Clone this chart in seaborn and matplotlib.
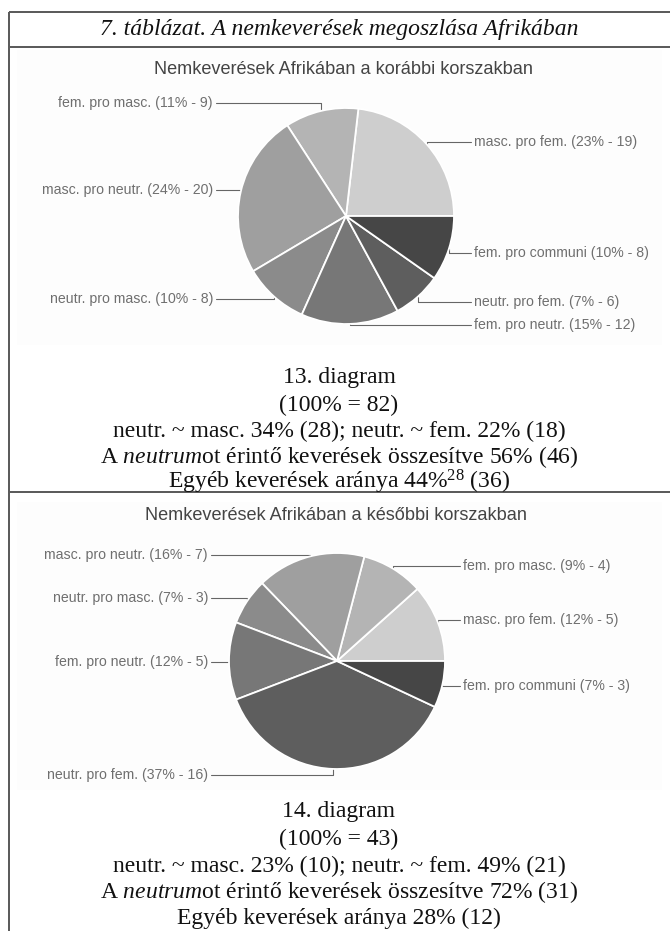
import matplotlib
matplotlib.use("Agg")
import numpy as np
import matplotlib.pyplot as plt
from matplotlib.patches import Rectangle
import seaborn as sns

sns.set_theme(style="white")
plt.rcParams["font.family"] = ["Liberation Sans", "DejaVu Sans"]
plt.rcParams["mathtext.fontset"] = "custom"
plt.rcParams["mathtext.rm"] = "Liberation Serif"
plt.rcParams["mathtext.it"] = "Liberation Serif:italic"
plt.rcParams["mathtext.bf"] = "Liberation Serif:bold"

# ---- data -------------------------------------------------------------
categories = [
    "masc. pro fem.",
    "fem. pro masc.",
    "masc. pro neutr.",
    "neutr. pro masc.",
    "fem. pro neutr.",
    "neutr. pro fem.",
    "fem. pro communi",
]
early_counts = [19, 9, 20, 8, 12, 6, 8]
late_counts = [5, 4, 7, 3, 5, 16, 3]

table_title = "7. táblázat. A nemkeverések megoszlása Afrikában"
early_title = "Nemkeverések Afrikában a korábbi korszakban"
late_title = "Nemkeverések Afrikában a későbbi korszakban"

early_notes = [
    "13. diagram",
    "(100% = 82)",
    "neutr. ~ masc. 34% (28); neutr. ~ fem. 22% (18)",
    r"A $\mathit{neutrum}$ot érintő keverések összesítve 56% (46)",
    r"Egyéb keverések aránya 44%$^{28}$ (36)",
]
late_notes = [
    "14. diagram",
    "(100% = 43)",
    "neutr. ~ masc. 23% (10); neutr. ~ fem. 49% (21)",
    r"A $\mathit{neutrum}$ot érintő keverések összesítve 72% (31)",
    "Egyéb keverések aránya 28% (12)",
]

# ---- styling ----------------------------------------------------------
slice_colors = ["#cecece", "#b4b4b4", "#9f9f9f", "#8b8b8b",
                "#777777", "#5e5e5e", "#464646"]
W, H, DPI = 670, 931, 100
PX = 72.0 / DPI  # points per pixel

fig = plt.figure(figsize=(W / DPI, H / DPI), dpi=DPI)
fig.patch.set_facecolor("white")

# full-page layer in pixel coordinates (y grows downwards)
page = fig.add_axes([0, 0, 1, 1])
page.set_xlim(0, W)
page.set_ylim(H, 0)
page.axis("off")

# faint panels behind the two charts
for top, bottom in [(50, 345), (502, 790)]:
    page.add_patch(Rectangle((17, top), 645, bottom - top,
                             facecolor="#fdfdfd", edgecolor="none", zorder=0))

# table frame
frame_kw = dict(color="#5c5c5c", lw=2 * PX, solid_capstyle="butt", zorder=1)
for y in (12, 47, 492):
    page.plot([9, W], [y, y], **frame_kw)
page.plot([9, 9], [12, H], **frame_kw)

serif = ["Liberation Serif", "DejaVu Serif"]
page.text(339, 30, table_title, ha="center", va="center", fontsize=17,
          family=serif, style="italic", color="#111111")


def draw_pie(counts, title, cx, cy, r, title_xy, left_x, right_x, nudges):
    total = sum(counts)
    ax = fig.add_axes([(cx - r) / W, 1 - (cy + r) / H, 2 * r / W, 2 * r / H])
    ax.set_facecolor("none")
    wedges, _ = ax.pie(counts, colors=slice_colors, startangle=0,
                       counterclock=True, radius=1,
                       wedgeprops=dict(edgecolor="white", linewidth=1.3))
    ax.set_xlim(-1, 1)
    ax.set_ylim(-1, 1)

    page.text(title_xy[0], title_xy[1], title, ha="center", va="center",
              fontsize=13.1, color="#444444")

    for wedge, cat, n, dy in zip(wedges, categories, counts, nudges):
        mid = np.deg2rad((wedge.theta1 + wedge.theta2) / 2)
        ex = cx + r * np.cos(mid)
        ey = cy - r * np.sin(mid)
        ly = ey + dy
        pct = round(100 * n / total)
        label = f"{cat} ({pct}% - {n})"
        if np.cos(mid) >= 0:
            page.plot([ex, ex, right_x - 3], [ey, ly, ly], color="#666666",
                      lw=1.1 * PX, zorder=2)
            page.text(right_x, ly, label, ha="left", va="center",
                      fontsize=10.2, color="#6f6f6f")
        else:
            page.plot([ex, ex, left_x + 3], [ey, ly, ly], color="#666666",
                      lw=1.1 * PX, zorder=2)
            page.text(left_x, ly, label, ha="right", va="center",
                      fontsize=10.2, color="#6f6f6f")


def draw_notes(lines, ys):
    for text, y in zip(lines, ys):
        page.text(339, y, text, ha="center", va="center", fontsize=17,
                  family=serif, color="#111111")


draw_pie(early_counts, early_title, 346, 216, 108, (344, 70), 213, 474,
         [-2, -8, -1, 2, 1, 5, 4])
draw_notes(early_notes, [378, 405, 431, 457, 482])

draw_pie(late_counts, late_title, 337, 661, 108, (336, 515), 208, 463,
         [-2, -3, -2, -3, 1, 6, 2])
draw_notes(late_notes, [812, 839, 866, 892, 918])

fig.savefig("out.png", dpi=DPI, facecolor="white")
